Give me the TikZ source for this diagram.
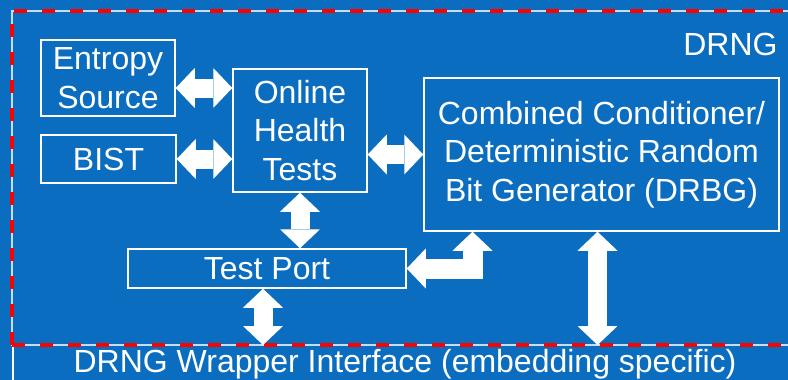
\documentclass[tikz,border=0pt]{standalone}
\usepackage{fontspec}
\setmainfont{Liberation Sans}
\usetikzlibrary{arrows.meta}
\definecolor{drngblue}{HTML}{0B6DBF}
\definecolor{framegray}{HTML}{C8DCF0}
\tikzset{
  box/.style={draw=white, line width=0.75pt, text=white, align=center, inner sep=0pt},
  lbl/.style={text=white, inner sep=0pt},
  barrow/.style={draw=white, line width=9.5pt, {Triangle[length=9.5pt, width=20pt, line width=0pt]}-{Triangle[length=9.5pt, width=20pt, line width=0pt]}},
}
\begin{document}
\begin{tikzpicture}[x=0.5pt,y=-0.5pt,font=\fontsize{16}{19.2}\selectfont]
\fill[drngblue] (0,0) rectangle (788,380);
\useasboundingbox (0,0) rectangle (788,380);
% frames
\draw[white, line width=0.6pt] (13,345) rectangle (830,420);
\draw[framegray, line width=0.6pt] (12,11) rectangle (830,345);
\draw[red, line width=2pt, dash pattern=on 6.5pt off 7.5pt] (12,345) -- (12,11) -- (830,11);
\draw[red, line width=2pt, dash pattern=on 6.5pt off 7.5pt] (12,345) -- (830,345);
\coordinate (wraptop) at (0,345);
\node[lbl, anchor=east] (drng) at (778,44) {DRNG};
\node[lbl] (wrap) at (405,364) {DRNG Wrapper Interface (embedding specific)};
% blocks
\node[box, minimum width=67pt, minimum height=38pt] (es) at (108,78) {Entropy\\Source};
\node[box, minimum width=67.5pt, minimum height=24pt] (bist) at (108.5,159) {BIST};
\node[box, minimum width=67pt, minimum height=61.5pt] (oht) at (300,130.5) {Online\\Health\\Tests};
\node[box, minimum width=177.5pt, minimum height=76.5pt] (drbg) at (601.5,154.5) {Combined Conditioner/\\Deterministic Random\\Bit Generator (DRBG)};
\node[box, minimum width=139pt, minimum height=19.5pt] (tp) at (267,268.5) {Test Port};
% block arrows
\draw[barrow] ([yshift=-5pt]es.east) -- ([yshift=-5pt]es.east -| oht.west);
\draw[barrow] (bist.east) -- (bist.east -| oht.west);
\draw[barrow] (drbg.west -| oht.east) -- (drbg.west);
\draw[barrow] (oht.south) -- (oht.south |- tp.north);
\draw[barrow] ([xshift=-2pt]tp.south) -- ([xshift=-2pt]tp.south |- wraptop);
\draw[barrow] ([xshift=-2pt]drbg.south) -- ([xshift=-2pt]drbg.south |- wraptop);
\draw[barrow, line width=10pt] (tp.east) -| ([xshift=-64.5pt]drbg.south);
\end{tikzpicture}
\end{document}
